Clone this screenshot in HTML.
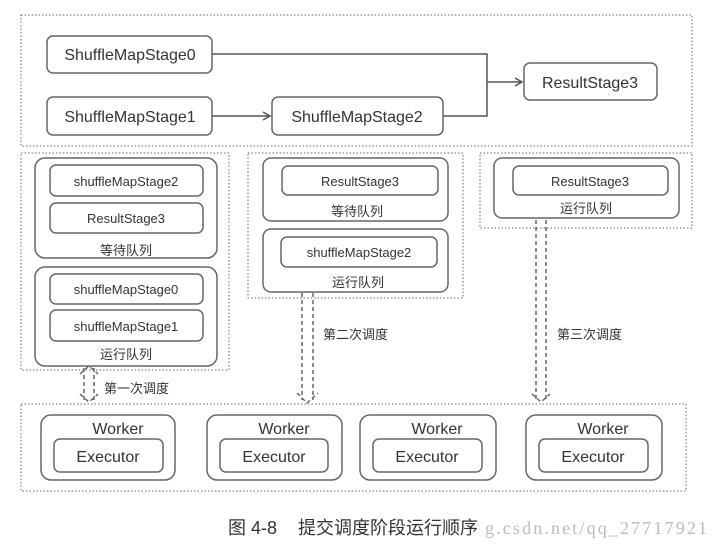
<!DOCTYPE html>
<html><head><meta charset="utf-8"><style>
html,body{margin:0;padding:0;background:#fff;}
svg{display:block;}
text{font-family:"Liberation Sans","Noto Sans CJK SC",sans-serif;fill:#333;}
</style></head><body>
<svg width="712" height="551" viewBox="0 0 712 551" xmlns="http://www.w3.org/2000/svg">
<defs>
<marker id="ar" markerWidth="10" markerHeight="10" refX="8" refY="5" orient="auto" markerUnits="userSpaceOnUse">
<path d="M1,1 L8,5 L1,9" fill="none" stroke="#555" stroke-width="1.5"/></marker>
</defs>
<g fill="none" stroke="#888" stroke-width="1.3" stroke-dasharray="1.5,2">
<rect x="21" y="15" width="671" height="131"/>
<rect x="21" y="153" width="208" height="217"/>
<rect x="248" y="153" width="215" height="145"/>
<rect x="480" y="153" width="212" height="75"/>
<rect x="21" y="404" width="665" height="87"/>
</g>
<g fill="#fff" stroke="#666" stroke-width="1.5">
<rect x="47" y="36" width="165" height="37" rx="6"/>
<rect x="47" y="97" width="165" height="38" rx="6"/>
<rect x="272" y="97" width="171" height="38" rx="6"/>
<rect x="524" y="63" width="133" height="37" rx="6"/>
<rect x="35" y="158" width="182" height="100" rx="10"/>
<rect x="50" y="165" width="153" height="31" rx="6"/>
<rect x="50" y="203" width="153" height="30" rx="6"/>
<rect x="35" y="267" width="182" height="99" rx="10"/>
<rect x="50" y="274" width="153" height="30" rx="6"/>
<rect x="50" y="310" width="153" height="31" rx="6"/>
<rect x="263" y="158" width="185" height="63" rx="8"/>
<rect x="282" y="166" width="156" height="29" rx="6"/>
<rect x="263" y="229" width="185" height="63" rx="8"/>
<rect x="281" y="237" width="156" height="30" rx="6"/>
<rect x="494" y="158" width="185" height="60" rx="8"/>
<rect x="513" y="166" width="155" height="29" rx="6"/>
<rect x="41" y="415" width="134" height="65" rx="10"/>
<rect x="54" y="439" width="109" height="33" rx="6"/>
<rect x="207" y="415" width="135" height="65" rx="10"/>
<rect x="220" y="439" width="108" height="33" rx="6"/>
<rect x="360" y="415" width="136" height="65" rx="10"/>
<rect x="373" y="439" width="109" height="33" rx="6"/>
<rect x="526" y="415" width="136" height="65" rx="10"/>
<rect x="539" y="439" width="109" height="33" rx="6"/>
</g>
<g fill="none" stroke="#555" stroke-width="1.5">
<path d="M212,54 H487 V116 H443"/>
<path d="M487,82 H522" marker-end="url(#ar)"/>
<path d="M212,116 H270" marker-end="url(#ar)"/>
</g>
<g fill="none" stroke="#666" stroke-width="1.5" stroke-dasharray="4,3">
<path d="M84,368 V400 M94,368 V400 M80,394 L89,402 L98,394 M80,374 L89,366 L98,374"/>
<path d="M302,293 V400 M313,293 V400 M297,393 L307,403 L318,393"/>
<path d="M536,220 V400 M546,220 V400 M532,394 L541,402 L550,394"/>
</g>
<g text-anchor="middle" font-size="16">
<text x="130" y="60">ShuffleMapStage0</text>
<text x="130" y="122">ShuffleMapStage1</text>
<text x="357" y="122">ShuffleMapStage2</text>
<text x="590" y="88">ResultStage3</text>
</g>
<g text-anchor="middle" font-size="13">
<text x="126" y="186">shuffleMapStage2</text>
<text x="126" y="223">ResultStage3</text>
<text x="126" y="255">等待队列</text>
<text x="126" y="294">shuffleMapStage0</text>
<text x="126" y="331">shuffleMapStage1</text>
<text x="126" y="359">运行队列</text>
<text x="360" y="186">ResultStage3</text>
<text x="357" y="216">等待队列</text>
<text x="359" y="257">shuffleMapStage2</text>
<text x="358" y="287">运行队列</text>
<text x="590" y="186">ResultStage3</text>
<text x="586" y="213">运行队列</text>
</g>
<g font-size="13">
<text x="104" y="393">第一次调度</text>
<text x="323" y="339">第二次调度</text>
<text x="557" y="339">第三次调度</text>
</g>
<g text-anchor="middle" font-size="16">
<text x="118" y="434">Worker</text><text x="108" y="462">Executor</text>
<text x="284" y="434">Worker</text><text x="274" y="462">Executor</text>
<text x="437" y="434">Worker</text><text x="427" y="462">Executor</text>
<text x="603" y="434">Worker</text><text x="593" y="462">Executor</text>
</g>
<text x="228" y="534" font-size="18">图 4-8</text>
<text x="298" y="534" font-size="18">提交调度阶段运行顺序</text>
<text x="485" y="534" font-size="18" textLength="222" style="font-family:'Liberation Serif',serif;fill:#bbb">g.csdn.net/qq_27717921</text>
</svg>
</body></html>
